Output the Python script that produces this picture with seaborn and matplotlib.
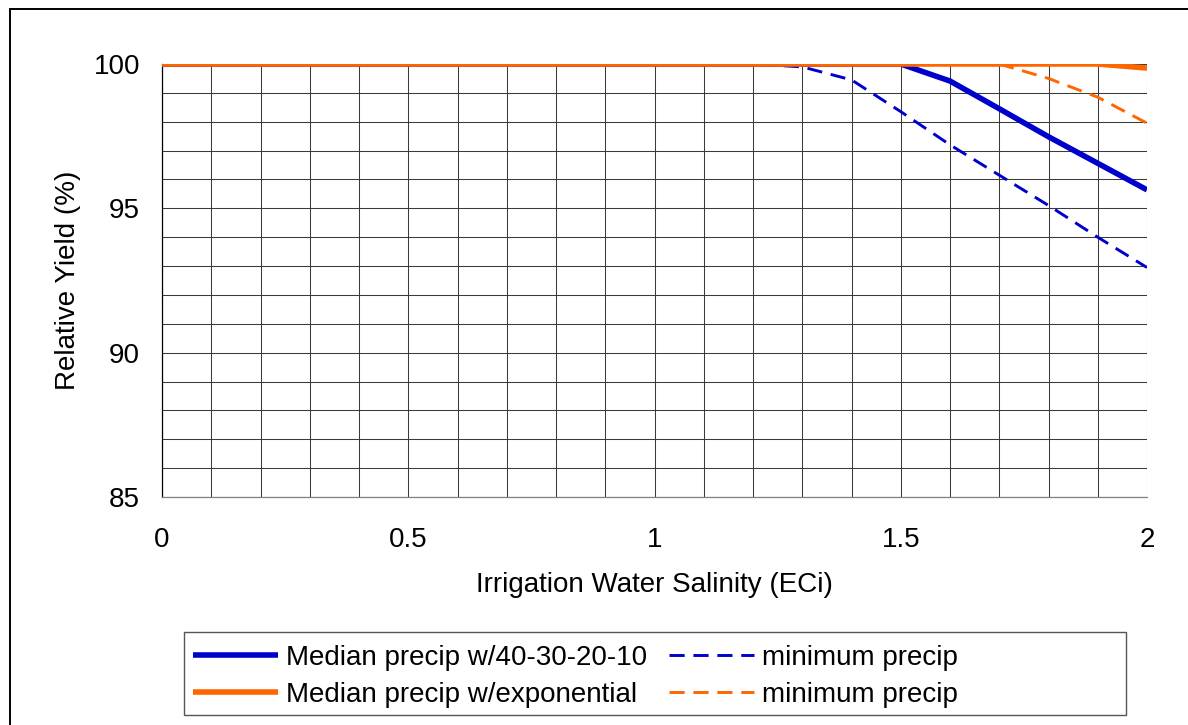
import matplotlib
matplotlib.use("Agg")
import matplotlib.pyplot as plt
from matplotlib.patches import Rectangle
from matplotlib.ticker import MultipleLocator, FixedLocator
import seaborn as sns
import pandas as pd

# ---- data ----
eci = [0.0, 0.1, 0.2, 0.3, 0.4, 0.5, 0.6, 0.7, 0.8, 0.9, 1.0,
       1.1, 1.2, 1.3, 1.4, 1.5, 1.6, 1.7, 1.8, 1.9, 2.0]
median_40302010 = [100, 100, 100, 100, 100, 100, 100, 100, 100, 100, 100,
                   100, 100, 100, 100, 100, 99.41, 98.45, 97.48, 96.56, 95.64]
minimum_40302010 = [100, 100, 100, 100, 100, 100, 100, 100, 100, 100, 100,
                    100, 100, 99.9, 99.45, 98.35, 97.2, 96.15, 95.1, 94.0, 92.95]
median_exponential = [100, 100, 100, 100, 100, 100, 100, 100, 100, 100, 100,
                      100, 100, 100, 100, 100, 100, 100, 100, 100, 99.86]
minimum_exponential = [100, 100, 100, 100, 100, 100, 100, 100, 100, 100, 100,
                       100, 100, 100, 100, 100, 100, 100, 99.5, 98.85, 97.95]

labels = ["Median precip w/40-30-20-10", "minimum precip",
          "Median precip w/exponential", "minimum precip"]
x_ticks = [0, 0.5, 1, 1.5, 2]
x_tick_labels = ["0", "0.5", "1", "1.5", "2"]
y_ticks = [85, 90, 95, 100]

BLUE = "#0000CC"
ORANGE = "#FF6600"

sns.set_style("white")
plt.rcParams["font.family"] = ["Liberation Sans", "DejaVu Sans"]
plt.rcParams["font.size"] = 20
plt.rcParams["text.color"] = "black"
plt.rcParams["axes.labelcolor"] = "black"
plt.rcParams["xtick.color"] = "black"
plt.rcParams["ytick.color"] = "black"

W, H = 1188, 725
fig = plt.figure(figsize=(W / 100, H / 100), dpi=100)
fig.patch.set_facecolor("white")
ax = fig.add_axes([162 / W, 1 - 497 / H, 985 / W, 433 / H])

series = [
    (median_40302010, BLUE, 4.0, None, labels[0]),
    (minimum_40302010, BLUE, 2.1, (5.2, 3.0), labels[1]),
    (median_exponential, ORANGE, 4.0, None, labels[2]),
    (minimum_exponential, ORANGE, 2.1, (5.2, 3.0), labels[3]),
]
for vals, col, lw, dash, lab in series:
    n_before = len(ax.lines)
    sns.lineplot(x=eci, y=vals, ax=ax, color=col, linewidth=lw, label=lab,
                 legend=False, zorder=3)
    line = ax.lines[n_before]
    if dash is not None:
        line.set_dashes(dash)
    line.set_solid_capstyle("butt")

ax.set_xlim(0, 2)
ax.set_ylim(85, 100)
ax.xaxis.set_major_locator(FixedLocator(x_ticks))
ax.set_xticklabels(x_tick_labels)
ax.xaxis.set_minor_locator(MultipleLocator(0.1))
ax.yaxis.set_major_locator(FixedLocator(y_ticks))
ax.yaxis.set_minor_locator(MultipleLocator(1))

ax.grid(True, which="both", color="#3a3a3a", linewidth=0.75)
ax.set_axisbelow(True)

ax.tick_params(axis="both", which="major", direction="out", length=5.8,
               width=0.8, color="#555555", labelsize=20, labelcolor="black")
ax.tick_params(axis="x", which="major", pad=15.5)
ax.tick_params(axis="y", which="major", pad=10)
ax.tick_params(axis="both", which="minor", length=0)

for s in ["top", "right"]:
    ax.spines[s].set_visible(False)
ax.spines["left"].set_color("black")
ax.spines["left"].set_linewidth(0.9)
ax.spines["bottom"].set_color("#808080")
ax.spines["bottom"].set_linewidth(0.9)

ax.set_xlabel("Irrigation Water Salinity (ECi)", fontsize=20, color="black")
ax.set_ylabel("Relative Yield (%)", fontsize=20, color="black")
ax.xaxis.label.set_va("center")
ax.yaxis.label.set_va("center")
ax.xaxis.set_label_coords(0.5, (497 - 585) / 433)
ax.yaxis.set_label_coords((68 - 162) / 985, 0.5)

# legend (two columns, Excel-like)
h = [ax.lines[0], ax.lines[2], ax.lines[1], ax.lines[3]]
l = [labels[0], labels[2], labels[1], labels[3]]
leg = fig.legend(h, l, ncol=2, loc="upper left",
                 bbox_to_anchor=(193 / W, 1 - 645 / H), frameon=False,
                 borderpad=0, borderaxespad=0, handlelength=3.06,
                 handletextpad=0.29, columnspacing=0.8, labelspacing=0.4,
                 fontsize=20)
for t in leg.get_texts():
    t.set_color("black")
fig.add_artist(Rectangle((184 / W, 1 - 715 / H), (1126 - 184) / W, 83 / H,
                         transform=fig.transFigure, fill=False,
                         edgecolor="#555555", linewidth=1.0))
# outer chart border (extends past right and bottom edges)
fig.add_artist(Rectangle((10 / W, -0.1), 1.2, 1.1 - 9 / H,
                         transform=fig.transFigure, fill=False,
                         edgecolor="black", linewidth=1.4))

fig.savefig("out.png", dpi=100, facecolor="white")
